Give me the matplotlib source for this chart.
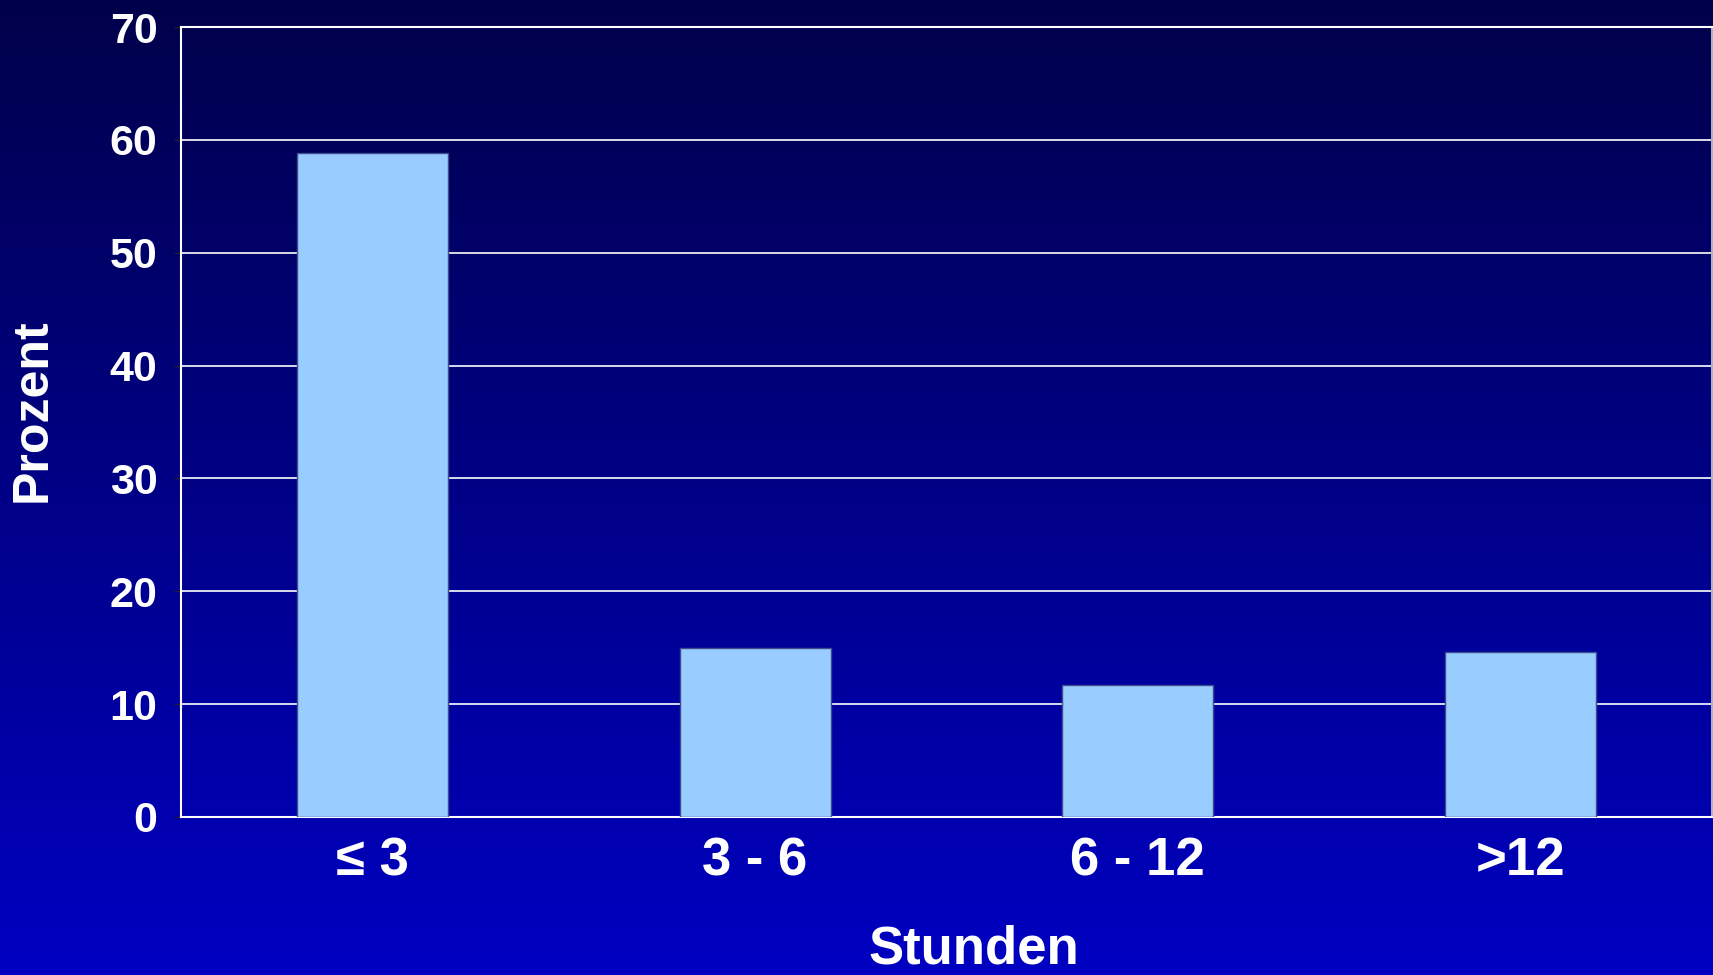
import numpy as np
import matplotlib
matplotlib.use("Agg")
import matplotlib.pyplot as plt
from matplotlib.colors import LinearSegmentedColormap

# data
categories = ['\u2264 3', '3 - 6', '6 - 12', '>12']
prozent = [58.8, 15.0, 11.7, 14.6]
y_ticks = [0, 10, 20, 30, 40, 50, 60, 70]

plt.rcParams['font.family'] = ['Liberation Sans', 'DejaVu Sans']
plt.rcParams['font.weight'] = 'bold'

fig = plt.figure(figsize=(17.13, 9.75), dpi=100)

# background gradient, dark navy at top to bright blue at bottom
bg = fig.add_axes([0, 0, 1, 1], zorder=0)
grad = np.linspace(0, 1, 256).reshape(-1, 1)
cmap = LinearSegmentedColormap.from_list('bg', ['#00004a', '#0000c2'])
bg.imshow(grad, aspect='auto', cmap=cmap, extent=[0, 1, 0, 1], origin='upper')
bg.axis('off')

W, H = 1713, 975
left, right, top, bottom = 181, 1712, 27, 817
ax = fig.add_axes([left / W, 1 - bottom / H, (right - left) / W, (bottom - top) / H], zorder=1)
ax.patch.set_alpha(0)

x = np.arange(len(categories))
ax.bar(x, prozent, width=0.395, color='#99ccff', edgecolor='#3c4c8c', linewidth=1, zorder=3)

ax.set_xlim(-0.5, len(categories) - 0.5)
ax.set_ylim(0, 70)
ax.set_yticks(y_ticks)
ax.yaxis.grid(True, color='white', linewidth=1.2, zorder=1)
ax.set_axisbelow(True)

for side in ['left', 'top', 'bottom']:
    ax.spines[side].set_color('white')
    ax.spines[side].set_linewidth(1.5)
ax.spines['right'].set_color('#b0b0c8')
ax.spines['right'].set_linewidth(1.5)

ax.set_xticks(x)
ax.set_xticklabels(categories)
ax.tick_params(axis='x', length=0, pad=14, labelsize=38, labelcolor='white')
ax.tick_params(axis='y', length=5, color='#202020', direction='out', pad=12,
               labelsize=31, labelcolor='white')
for lbl in ax.get_xticklabels() + ax.get_yticklabels():
    lbl.set_fontweight('bold')

fig.text(974 / W, 1 - 950 / H, 'Stunden', ha='center', va='center',
         fontsize=38, fontweight='bold', color='white')
fig.text(33 / W, 1 - 410 / H, 'Prozent', ha='center', va='center', rotation=90,
         fontsize=36, fontweight='bold', color='white')

fig.savefig('out.png', dpi=100, facecolor='#0000a0')
